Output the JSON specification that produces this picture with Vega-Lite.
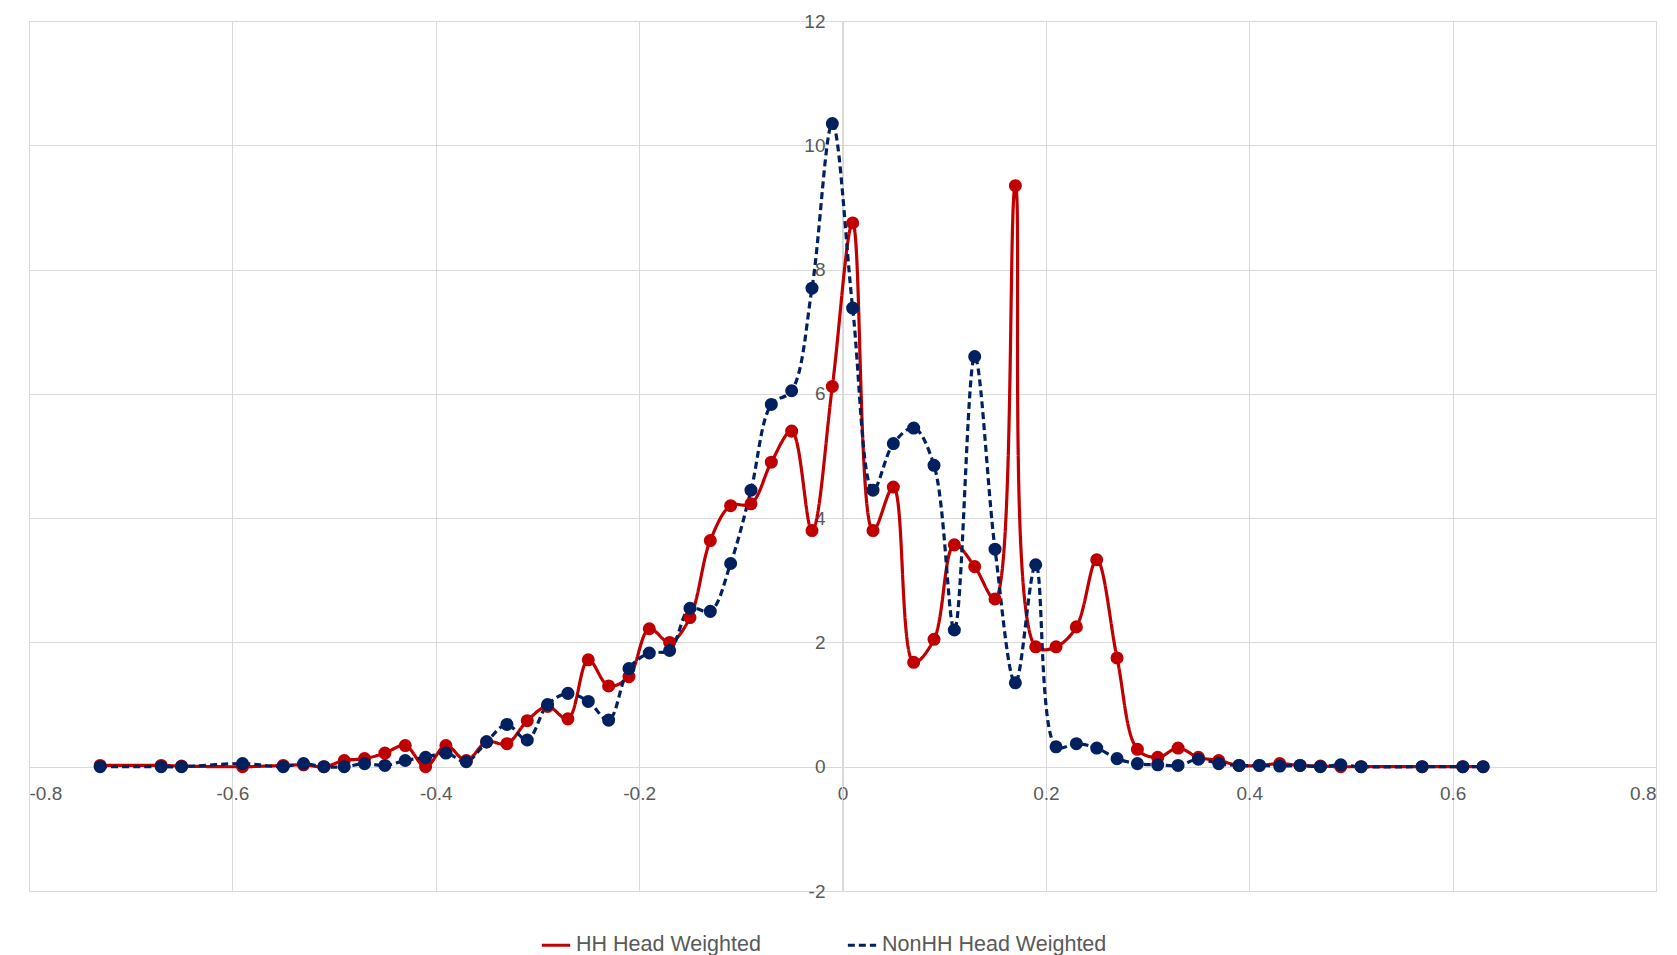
{
"$schema":"https://vega.github.io/schema/vega-lite/v6.json",
"width":1627,"height":870,
"autosize":{"type":"none"},
"padding":{"left":29,"top":21,"right":21,"bottom":64},
"background":"white",
"config":{"view":{"stroke":"#d9d9d9"},"axis":{"labelFont":"Liberation Sans","labelFontSize":19,"labelColor":"#595959","gridColor":"#d9d9d9","domainColor":"#d9d9d9","tickColor":"#d9d9d9"}},
"data":{"values":[
{"x":-0.73,"hh":0.02,"nonhh":0.0},{"x":-0.67,"hh":0.02,"nonhh":0.0},{"x":-0.65,"hh":0.01,"nonhh":0.0},{"x":-0.59,"hh":0.0,"nonhh":0.05},{"x":-0.55,"hh":0.02,"nonhh":0.0},{"x":-0.53,"hh":0.03,"nonhh":0.05},{"x":-0.51,"hh":0.0,"nonhh":0.0},{"x":-0.49,"hh":0.1,"nonhh":0.0},{"x":-0.47,"hh":0.13,"nonhh":0.05},{"x":-0.45,"hh":0.22,"nonhh":0.02},{"x":-0.43,"hh":0.34,"nonhh":0.1},{"x":-0.41,"hh":0.0,"nonhh":0.15},{"x":-0.39,"hh":0.34,"nonhh":0.22},{"x":-0.37,"hh":0.1,"nonhh":0.08},{"x":-0.35,"hh":0.4,"nonhh":0.4},{"x":-0.33,"hh":0.37,"nonhh":0.68},{"x":-0.31,"hh":0.74,"nonhh":0.43},{"x":-0.29,"hh":0.97,"nonhh":1.0},{"x":-0.27,"hh":0.77,"nonhh":1.18},{"x":-0.25,"hh":1.72,"nonhh":1.05},{"x":-0.23,"hh":1.3,"nonhh":0.75},{"x":-0.21,"hh":1.45,"nonhh":1.58},{"x":-0.19,"hh":2.22,"nonhh":1.83},{"x":-0.17,"hh":2.0,"nonhh":1.87},{"x":-0.15,"hh":2.4,"nonhh":2.55},{"x":-0.13,"hh":3.64,"nonhh":2.5},{"x":-0.11,"hh":4.2,"nonhh":3.27},{"x":-0.09,"hh":4.23,"nonhh":4.45},{"x":-0.07,"hh":4.9,"nonhh":5.83},{"x":-0.05,"hh":5.4,"nonhh":6.05},{"x":-0.03,"hh":3.8,"nonhh":7.7},{"x":-0.01,"hh":6.12,"nonhh":10.35},{"x":0.01,"hh":8.75,"nonhh":7.38},{"x":0.03,"hh":3.8,"nonhh":4.45},{"x":0.05,"hh":4.5,"nonhh":5.2},{"x":0.07,"hh":1.68,"nonhh":5.45},{"x":0.09,"hh":2.05,"nonhh":4.85},{"x":0.11,"hh":3.57,"nonhh":2.2},{"x":0.13,"hh":3.22,"nonhh":6.6},{"x":0.15,"hh":2.7,"nonhh":3.5},{"x":0.17,"hh":9.35,"nonhh":1.35},{"x":0.19,"hh":1.93,"nonhh":3.25},{"x":0.21,"hh":1.93,"nonhh":0.32},{"x":0.23,"hh":2.25,"nonhh":0.37},{"x":0.25,"hh":3.33,"nonhh":0.3},{"x":0.27,"hh":1.75,"nonhh":0.13},{"x":0.29,"hh":0.28,"nonhh":0.05},{"x":0.31,"hh":0.15,"nonhh":0.03},{"x":0.33,"hh":0.3,"nonhh":0.02},{"x":0.35,"hh":0.15,"nonhh":0.12},{"x":0.37,"hh":0.1,"nonhh":0.05},{"x":0.39,"hh":0.02,"nonhh":0.02},{"x":0.41,"hh":0.02,"nonhh":0.02},{"x":0.43,"hh":0.05,"nonhh":0.01},{"x":0.45,"hh":0.02,"nonhh":0.02},{"x":0.47,"hh":0.01,"nonhh":0.0},{"x":0.49,"hh":0.0,"nonhh":0.03},{"x":0.51,"hh":0.0,"nonhh":0.0},{"x":0.57,"hh":0.0,"nonhh":0.0},{"x":0.61,"hh":0.0,"nonhh":0.0},{"x":0.63,"hh":0.0,"nonhh":0.0}
]},
"transform":[{"fold":["hh","nonhh"],"as":["key","y"]},{"lookup":"key","from":{"data":{"values":[{"key":"hh","series":"HH Head Weighted"},{"key":"nonhh","series":"NonHH Head Weighted"}]},"key":"key","fields":["series"]}}],
"layer":[
{"mark":{"type":"line","interpolate":"catmull-rom","strokeWidth":3.2,"point":{"filled":true,"size":170}},
"encoding":{
"x":{"field":"x","type":"quantitative","scale":{"domain":[-0.8,0.8],"nice":false},"axis":{"orient":"bottom","title":null,"grid":true,"labels":false,"ticks":false,"domain":false,"values":[-0.8,-0.6,-0.4,-0.2,0,0.2,0.4,0.6,0.8]}},
"y":{"field":"y","type":"quantitative","scale":{"domain":[-2,12],"nice":false},"axis":{"orient":"left","title":null,"grid":true,"labels":false,"ticks":false,"domain":false,"values":[-2,0,2,4,6,8,10,12]}},
"color":{"field":"series","type":"nominal","scale":{"range":["#C00000","#002060"]},"legend":{"title":null,"orient":"none","direction":"horizontal","legendX":511,"legendY":908,"labelFontSize":21.5,"labelFont":"Liberation Sans","labelColor":"#595959","labelLimit":0,"symbolSize":800,"symbolStrokeWidth":3,"columnPadding":80,"symbolType":"stroke"}},
"strokeDash":{"field":"series","type":"nominal","scale":{"range":[[1,0],[7,4]]},"legend":null}
}},
{"mark":{"type":"point","opacity":0},
"encoding":{
"x":{"field":"x","type":"quantitative","scale":{"domain":[-0.8,0.8],"nice":false},"axis":{"orient":"bottom","title":null,"grid":false,"offset":-124,"values":[-0.8,-0.6,-0.4,-0.2,0,0.2,0.4,0.6,0.8],"ticks":false,"labelPadding":17,"labelExpr":"datum.value < 0 ? '-' + format(-datum.value,'~g') : format(datum.value,'~g')"}},
"y":{"field":"y","type":"quantitative","scale":{"domain":[-2,12],"nice":false},"axis":{"orient":"left","title":null,"grid":false,"offset":-813,"values":[-2,0,2,4,6,8,10,12],"ticks":false,"labelPadding":17,"labelExpr":"datum.value < 0 ? '-' + format(-datum.value,'~g') : format(datum.value,'~g')"}}
}}
],
"resolve":{"axis":{"x":"independent","y":"independent"}}
}
